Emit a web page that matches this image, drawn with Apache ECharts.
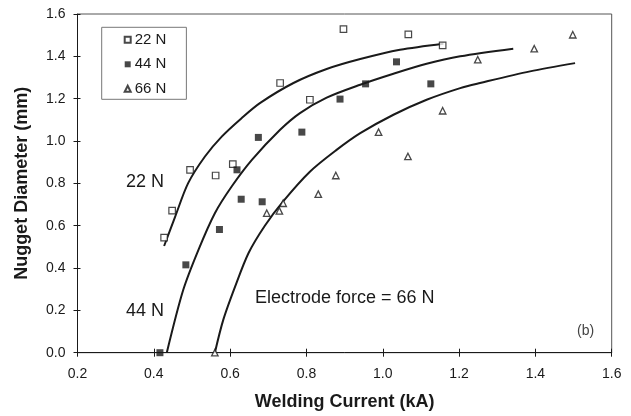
<!DOCTYPE html>
<html><head><meta charset="utf-8">
<script src="https://cdn.jsdelivr.net/npm/echarts@6/dist/echarts.min.js"></script>
<style>html,body{margin:0;padding:0;background:#fff}#c{width:631px;height:416px}</style>
</head><body><div id="c"></div>
<script>
const xTicks = [0.2,0.4,0.6,0.8,1.0,1.2,1.4,1.6];
const yTicks = [0.0,0.2,0.4,0.6,0.8,1.0,1.2,1.4,1.6];

const pts22 = [[0.427,0.544],[0.448,0.671],[0.495,0.864],[0.562,0.837],[0.607,0.891],[0.731,1.274],[0.809,1.195],[0.897,1.529],[1.067,1.504],[1.157,1.452]];
const pts44 = [[0.416,0.0],[0.484,0.415],[0.572,0.582],[0.618,0.864],[0.629,0.725],[0.684,0.713],[0.674,1.017],[0.788,1.042],[0.888,1.198],[0.955,1.270],[1.036,1.374],[1.126,1.270]];
const pts66 = [[0.560,0.0],[0.696,0.659],[0.729,0.670],[0.739,0.706],[0.831,0.749],[0.877,0.837],[0.989,1.042],[1.066,0.927],[1.157,1.143],[1.249,1.384],[1.397,1.436],[1.498,1.502]];

const fit22 = [[0.427,0.504],[0.456,0.643],[0.490,0.801],[0.534,0.927],[0.578,1.021],[0.630,1.108],[0.678,1.179],[0.766,1.274],[0.853,1.340],[0.941,1.387],[1.045,1.431],[1.159,1.460]];
const fit44 = [[0.434,0.0],[0.477,0.296],[0.517,0.486],[0.560,0.659],[0.604,0.785],[0.657,0.911],[0.731,1.053],[0.783,1.132],[0.853,1.205],[0.941,1.266],[1.028,1.318],[1.115,1.365],[1.203,1.400],[1.342,1.436]];
const fit66 = [[0.560,0.0],[0.582,0.155],[0.613,0.312],[0.648,0.470],[0.691,0.600],[0.739,0.715],[0.809,0.855],[0.879,0.958],[0.941,1.037],[1.028,1.124],[1.115,1.195],[1.203,1.250],[1.255,1.274],[1.386,1.329],[1.504,1.368]];

const names = ['22 N','44 N','66 N'];

const chart = echarts.init(document.getElementById('c'));
const font = 'Liberation Sans, Arial, sans-serif';
const ink = '#1a1a1a';
function lineSeries(d){
  return {type:'line', data:d, smooth:0.3, showSymbol:false, symbol:'none', silent:true,
    lineStyle:{color:ink,width:2}, z:2};
}
const lbl = {color:ink,fontFamily:font,fontSize:14};
chart.setOption({
  animation:false,
  grid:{left:77.5,right:19.3,top:14,bottom:63.3,show:true,borderColor:'#555',borderWidth:1},
  xAxis:[{type:'value',min:0.2,max:1.6,interval:0.2,
    axisLine:{lineStyle:{color:ink,width:1}},
    axisTick:{inside:false,length:4,lineStyle:{color:ink}},
    splitLine:{show:false},
    axisLabel:Object.assign({margin:14,formatter:v=>v.toFixed(1)},lbl),
    name:'Welding Current (kA)',nameLocation:'middle',nameGap:40,
    nameTextStyle:{color:ink,fontFamily:font,fontSize:18,fontWeight:'bold'}},
   {type:'value',min:0.2,max:1.6,interval:0.2,position:'bottom',
    axisLine:{show:false},axisTick:{show:true,inside:true,length:4,lineStyle:{color:ink}},
    axisLabel:{show:false},splitLine:{show:false}}],
  yAxis:[{type:'value',min:0,max:1.6,interval:0.2,
    axisLine:{show:true,lineStyle:{color:ink,width:1}},
    axisTick:{show:true,inside:false,length:4,lineStyle:{color:ink}},
    splitLine:{show:false},
    axisLabel:Object.assign({margin:12,formatter:v=>v.toFixed(1)},lbl),
    name:'Nugget Diameter (mm)',nameLocation:'middle',nameGap:46,
    nameTextStyle:{color:ink,fontFamily:font,fontSize:18,fontWeight:'bold'}},
   {type:'value',min:0,max:1.6,interval:0.2,position:'left',
    axisLine:{show:false},axisTick:{show:true,inside:true,length:3,lineStyle:{color:ink}},
    axisLabel:{show:false},splitLine:{show:false}}],
  legend:{data:names,orient:'vertical',left:101.7,top:27.3,
    backgroundColor:'#fff',borderColor:'#777',borderWidth:1,
    padding:[5,20,3,22],itemGap:9.5,itemWidth:6,itemHeight:6,
    textStyle:{color:ink,fontFamily:font,fontSize:15,padding:[0,0,0,-1]}},
  series:[
    {name:names[0],type:'scatter',data:pts22,symbol:'rect',symbolSize:6.5,
      itemStyle:{color:'#fff',borderColor:ink,borderWidth:1.2},z:3},
    {name:names[1],type:'scatter',data:pts44,symbol:'rect',symbolSize:7,
      itemStyle:{color:ink,borderColor:ink,borderWidth:0},z:3},
    {name:names[2],type:'scatter',data:pts66,symbol:'triangle',symbolSize:6.5,
      itemStyle:{color:'#fff',borderColor:ink,borderWidth:1.3},z:3},
    lineSeries(fit22),lineSeries(fit44),lineSeries(fit66)
  ],
  graphic:[
    {type:'text',left:126,top:173,style:{text:'22 N',fill:ink,font:'18px '+font}},
    {type:'text',left:126,top:302,style:{text:'44 N',fill:ink,font:'18px '+font}},
    {type:'text',left:255,top:289,style:{text:'Electrode force = 66 N',fill:ink,font:'18px '+font}},
    {type:'text',left:577,top:324,style:{text:'(b)',fill:'#444',font:'14px '+font}}
  ]
});
</script></body></html>
